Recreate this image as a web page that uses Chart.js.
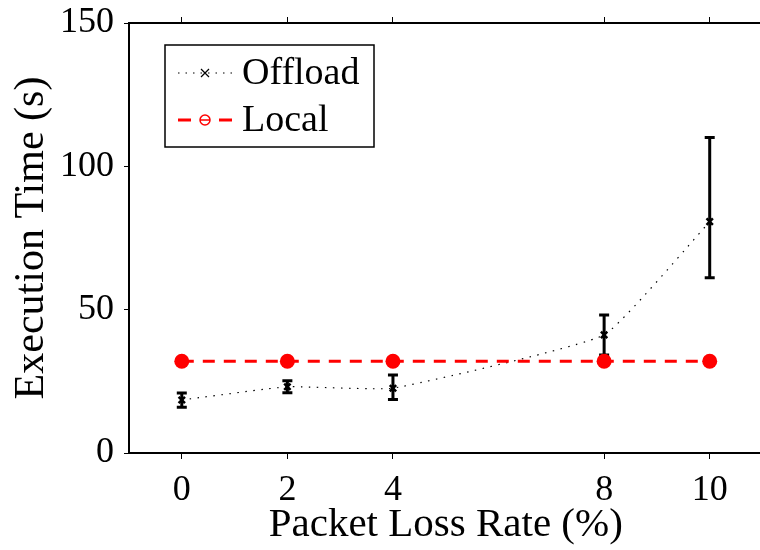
<!DOCTYPE html>
<html>
<head>
<meta charset="utf-8">
<script src="https://cdn.jsdelivr.net/npm/chart.js@4.4.0/dist/chart.umd.min.js"></script>
<style>
  html, body { margin: 0; padding: 0; background: #fff; overflow: hidden; }
  #wrap { width: 770px; height: 550px; }
</style>
</head>
<body>
<div id="wrap"><canvas id="grafico" width="770" height="550"></canvas></div>
<script>
// dati
const lossRates = [0, 2, 4, 8, 10];
const offloadTime = [18.5, 23.1, 22.6, 41.2, 80.7];
const offloadLow = [16.0, 21.0, 18.7, 34.2, 61.1];
const offloadHigh = [20.9, 25.2, 27.2, 48.1, 110.1];
const localTime = [32, 32, 32, 32, 32];
const xTicks = [0, 2, 4, 8, 10];
const yTicks = [0, 50, 100, 150];

const serif = "'Liberation Serif', 'DejaVu Serif', serif";

// barre di errore sotto le linee
const erroriPlugin = {
    id: "errori",
    beforeDatasetsDraw(chart) {
        const ctx = chart.ctx;
        const x = chart.scales.x;
        const y = chart.scales.y;
        ctx.save();
        ctx.strokeStyle = "#000";
        ctx.lineWidth = 3;
        for (let i = 0; i < lossRates.length; i++) {
            const px = x.getPixelForValue(lossRates[i]);
            const top = y.getPixelForValue(offloadHigh[i]);
            const bot = y.getPixelForValue(offloadLow[i]);
            ctx.beginPath();
            ctx.moveTo(px, top);
            ctx.lineTo(px, bot);
            ctx.moveTo(px - 5, top);
            ctx.lineTo(px + 5, top);
            ctx.moveTo(px - 5, bot);
            ctx.lineTo(px + 5, bot);
            ctx.stroke();
        }
        ctx.restore();
    },
};

// legenda disegnata a mano (linea + marker)
const legendaPlugin = {
    id: "legenda",
    afterDraw(chart) {
        const ctx = chart.ctx;
        ctx.save();
        ctx.fillStyle = "#fff";
        ctx.fillRect(165, 45, 209, 102);
        ctx.strokeStyle = "#000";
        ctx.lineWidth = 1.5;
        ctx.strokeRect(165, 45, 209, 102);

        // Offload
        ctx.setLineDash([1.5, 6]);
        ctx.lineWidth = 1.2;
        ctx.beginPath();
        ctx.moveTo(178, 73);
        ctx.lineTo(232, 73);
        ctx.stroke();
        ctx.setLineDash([]);
        ctx.beginPath();
        ctx.moveTo(201, 69);
        ctx.lineTo(209, 77);
        ctx.moveTo(209, 69);
        ctx.lineTo(201, 77);
        ctx.stroke();

        // Local
        ctx.strokeStyle = "red";
        ctx.lineWidth = 3;
        ctx.beginPath();
        ctx.moveTo(178, 120);
        ctx.lineTo(191, 120);
        ctx.moveTo(219, 120);
        ctx.lineTo(232, 120);
        ctx.stroke();
        ctx.lineWidth = 1.5;
        ctx.beginPath();
        ctx.arc(205, 120, 5, 0, Math.PI * 2);
        ctx.moveTo(200, 120);
        ctx.lineTo(210, 120);
        ctx.stroke();

        ctx.fillStyle = "#000";
        ctx.font = "38px " + serif;
        ctx.textBaseline = "middle";
        ctx.fillText("Offload", 242, 74);
        ctx.fillText("Local", 242, 121);
        ctx.restore();
    },
};

const fissaTicks = (valori) => (scale) => {
    scale.ticks = valori.map((v) => ({ value: v }));
};

new Chart(document.getElementById("grafico"), {
    type: "line",
    data: {
        datasets: [
            {
                label: "Local",
                data: lossRates.map((v, i) => ({ x: v, y: localTime[i] })),
                borderColor: "red",
                backgroundColor: "red",
                borderWidth: 3,
                borderDash: [12, 9],
                pointRadius: 7.5,
                pointBorderWidth: 0,
                order: 0,
            },
            {
                label: "Offload",
                data: lossRates.map((v, i) => ({ x: v, y: offloadTime[i] })),
                borderColor: "#000",
                backgroundColor: "#000",
                borderWidth: 1.2,
                borderDash: [1.5, 6.5],
                tension: 0.12,
                pointStyle: "crossRot",
                pointRadius: 4.5,
                pointBorderWidth: 2.5,
                order: 1,
            },
        ],
    },
    options: {
        responsive: false,
        animation: false,
        layout: { padding: { right: 7 } },
        plugins: {
            legend: { display: false },
            tooltip: { enabled: false },
        },
        scales: {
            x: {
                type: "linear",
                min: -1,
                max: 11,
                afterBuildTicks: fissaTicks(xTicks),
                afterFit: (s) => { s.height = 97; },
                border: { display: true, color: "#000", width: 2 },
                grid: { drawOnChartArea: false, drawTicks: true, tickLength: 6, color: "#000", lineWidth: 1 },
                ticks: { color: "#000", font: { family: serif, size: 36 }, padding: 10 },
                title: {
                    display: true,
                    text: "Packet Loss Rate (%)",
                    color: "#000",
                    font: { family: serif, size: 41 },
                    padding: { top: -17, bottom: 0 },
                },
            },
            x2: {
                type: "linear",
                position: "top",
                min: -1,
                max: 11,
                afterBuildTicks: fissaTicks(xTicks),
                afterFit: (s) => { s.height = 23; },
                border: { display: true, color: "#000", width: 2 },
                grid: { drawOnChartArea: false, drawTicks: true, tickLength: 6, color: "#000", lineWidth: 1 },
                ticks: { display: false },
            },
            y: {
                type: "linear",
                min: 0,
                max: 150,
                afterBuildTicks: fissaTicks(yTicks),
                afterFit: (s) => {
                    s.width = 129;
                    s.paddingTop = 0;
                    s.paddingBottom = 0;
                },
                border: { display: true, color: "#000", width: 2 },
                grid: { drawOnChartArea: false, drawTicks: true, tickLength: 5, color: "#000", lineWidth: 1 },
                ticks: { color: "#000", font: { family: serif, size: 36, lineHeight: 1 }, padding: 10 },
                title: {
                    display: true,
                    text: "Execution Time (s)",
                    color: "#000",
                    font: { family: serif, size: 42 },
                    padding: { top: 7, bottom: 0 },
                },
            },
        },
    },
    plugins: [erroriPlugin, legendaPlugin],
});
</script>
</body>
</html>
